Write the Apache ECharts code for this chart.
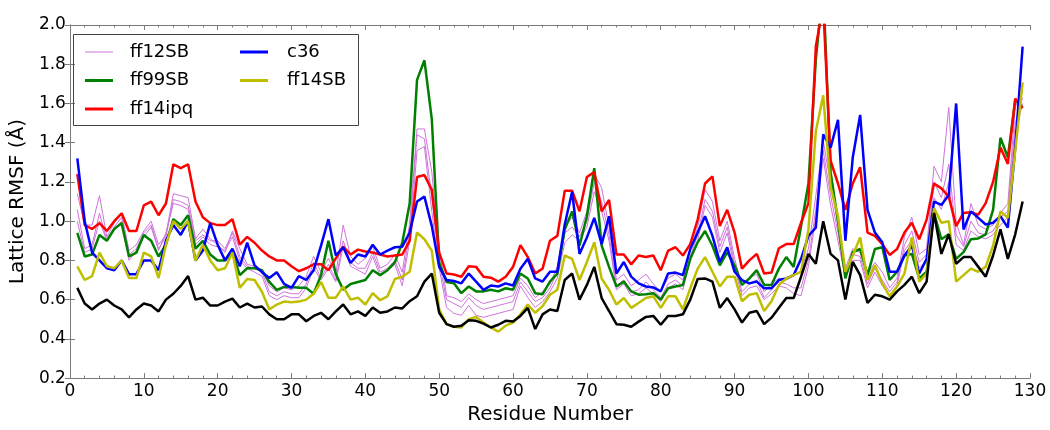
<!DOCTYPE html>
<html>
<head>
<meta charset="utf-8">
<script src="https://cdn.jsdelivr.net/npm/echarts@6/dist/echarts.min.js"></script>
<style>
  html, body { margin: 0; padding: 0; background: #fff; }
  #chart { width: 1050px; height: 430px; }
</style>
</head>
<body>
<div id="chart"></div>
<script>
// Residue numbers along the x axis (1..129)
const residues = Array.from({ length: 129 }, (_, i) => i + 1);

// Lattice RMSF per residue (Å)
const ff12SB_a = [
  1.14, 0.98, 0.98, 1.13, 0.92, 0.99, 1.04, 0.85, 0.88, 0.95,
  1.00, 0.88, 0.93, 1.14, 1.13, 1.12, 0.91, 0.96, 0.91, 0.88,
  0.84, 0.95, 0.86, 0.78, 0.77, 0.75, 0.67, 0.64, 0.66, 0.65,
  0.67, 0.72, 0.82, 0.74, 0.81, 0.73, 0.98, 0.82, 0.78, 0.81,
  0.87, 0.76, 0.78, 0.83, 0.74, 0.99, 1.47, 1.47, 1.25, 0.86,
  0.62, 0.61, 0.59, 0.63, 0.60, 0.58, 0.59, 0.60, 0.61, 0.62,
  0.71, 0.67, 0.61, 0.64, 0.68, 0.77, 0.97, 1.02, 0.94, 1.05,
  1.24, 1.17, 0.97, 0.70, 0.73, 0.67, 0.70, 0.73, 0.68, 0.64,
  0.71, 0.73, 0.70, 0.85, 0.97, 1.16, 1.10, 0.90, 1.00, 0.81,
  0.67, 0.71, 0.73, 0.64, 0.68, 0.71, 0.70, 0.72, 0.75, 0.86,
  1.13, 1.41, 1.19, 0.98, 0.76, 0.86, 0.84, 0.73, 0.79, 0.74,
  0.66, 0.71, 0.92, 1.02, 0.83, 0.86, 1.28, 1.20, 1.58, 0.99,
  0.88, 1.09, 0.98, 0.96, 0.98, 1.04, 1.09, 1.58, 1.66
];
const ff12SB_b = [
  1.06, 0.86, 0.88, 1.04, 0.90, 0.97, 1.02, 0.83, 0.86, 0.94,
  0.98, 0.86, 0.92, 1.11, 1.10, 1.08, 0.90, 0.93, 0.90, 0.90,
  0.86, 0.94, 0.82, 0.77, 0.76, 0.74, 0.64, 0.62, 0.64, 0.63,
  0.63, 0.68, 0.79, 0.71, 0.78, 0.70, 0.90, 0.79, 0.76, 0.76,
  0.84, 0.74, 0.76, 0.80, 0.70, 0.94, 1.44, 1.42, 1.12, 0.79,
  0.60, 0.58, 0.56, 0.61, 0.57, 0.55, 0.56, 0.57, 0.58, 0.59,
  0.69, 0.64, 0.59, 0.61, 0.66, 0.74, 0.94, 0.97, 0.92, 1.00,
  1.20, 1.10, 0.93, 0.67, 0.70, 0.64, 0.65, 0.69, 0.65, 0.61,
  0.68, 0.70, 0.67, 0.82, 0.93, 1.11, 1.05, 0.87, 0.97, 0.78,
  0.64, 0.68, 0.70, 0.61, 0.65, 0.69, 0.68, 0.66, 0.66, 0.80,
  1.06, 1.36, 1.13, 0.94, 0.73, 0.83, 0.82, 0.68, 0.76, 0.70,
  0.64, 0.69, 0.88, 0.95, 0.79, 0.83, 1.20, 1.12, 1.29, 0.93,
  0.87, 1.00, 0.94, 0.93, 0.95, 1.02, 1.05, 1.50, 1.63
];
const ff12SB_c = [
  1.00, 0.84, 0.86, 1.00, 0.90, 0.96, 1.00, 0.80, 0.85, 0.92,
  0.97, 0.85, 0.94, 1.09, 1.08, 1.06, 0.88, 0.92, 0.88, 0.87,
  0.85, 0.92, 0.80, 0.76, 0.74, 0.72, 0.62, 0.60, 0.62, 0.61,
  0.61, 0.66, 0.76, 0.70, 0.76, 0.69, 0.87, 0.77, 0.75, 0.73,
  0.82, 0.72, 0.75, 0.78, 0.67, 0.90, 1.36, 1.38, 1.05, 0.76,
  0.56, 0.53, 0.52, 0.57, 0.52, 0.51, 0.52, 0.53, 0.54, 0.55,
  0.67, 0.61, 0.56, 0.59, 0.64, 0.71, 0.89, 0.93, 0.90, 0.97,
  1.15, 1.05, 0.90, 0.65, 0.68, 0.62, 0.63, 0.66, 0.63, 0.59,
  0.66, 0.68, 0.65, 0.80, 0.90, 1.08, 1.02, 0.84, 0.94, 0.76,
  0.62, 0.66, 0.67, 0.60, 0.63, 0.67, 0.66, 0.63, 0.62, 0.77,
  1.02, 1.32, 1.08, 0.90, 0.71, 0.80, 0.80, 0.66, 0.74, 0.67,
  0.62, 0.67, 0.85, 0.90, 0.76, 0.80, 1.12, 1.06, 1.20, 0.88,
  0.85, 0.95, 0.92, 0.91, 0.93, 0.98, 1.02, 1.45, 1.60
];
const ff99SB = [
  0.94, 0.82, 0.83, 0.93, 0.90, 0.96, 0.99, 0.82, 0.84, 0.93,
  0.90, 0.82, 0.88, 1.01, 0.98, 1.03, 0.86, 0.90, 0.83, 0.80,
  0.80, 0.84, 0.725, 0.76, 0.76, 0.75, 0.69, 0.65, 0.665, 0.665,
  0.66, 0.66, 0.63, 0.725, 0.90, 0.73, 0.65, 0.68, 0.69, 0.70,
  0.75, 0.725, 0.75, 0.79, 0.89, 1.09, 1.72, 1.82, 1.52, 0.79,
  0.69, 0.683, 0.633, 0.667, 0.642, 0.642, 0.65, 0.642, 0.658, 0.65,
  0.733, 0.708, 0.633, 0.628, 0.692, 0.733, 0.958, 1.05, 0.875, 1.025,
  1.27, 0.875, 0.767, 0.667, 0.692, 0.642, 0.625, 0.628, 0.633, 0.60,
  0.658, 0.667, 0.675, 0.808, 0.892, 0.95, 0.875, 0.775, 0.842, 0.775,
  0.675, 0.708, 0.75, 0.675, 0.675, 0.758, 0.817, 0.767, 0.975, 1.192,
  1.825, 2.2, 1.25, 1.0, 0.708, 0.842, 0.858, 0.725, 0.858, 0.867,
  0.70, 0.742, 0.825, 0.833, 0.708, 0.742, 1.042, 0.908, 0.933, 0.808,
  0.842, 0.908, 0.912, 0.933, 1.058, 1.425, 1.325, 1.617, 1.58
];
const ff14ipq = [
  1.24, 0.98, 0.96, 0.99, 0.95, 1.00, 1.04, 0.95, 0.95, 1.08,
  1.10, 1.03, 1.09, 1.29, 1.27, 1.29, 1.10, 1.02, 0.99, 0.98,
  0.98, 1.01, 0.88, 0.92, 0.89, 0.85, 0.82, 0.80, 0.80, 0.77,
  0.745, 0.76, 0.78, 0.78, 0.75, 0.81, 0.87, 0.83, 0.855, 0.845,
  0.84, 0.83, 0.82, 0.825, 0.83, 0.90, 1.225, 1.235, 1.16, 0.84,
  0.733, 0.728, 0.717, 0.77, 0.767, 0.717, 0.712, 0.692, 0.717, 0.767,
  0.878, 0.817, 0.733, 0.758, 0.90, 0.925, 1.155, 1.155, 1.05, 1.225,
  1.25, 1.05, 1.108, 0.83, 0.83, 0.78, 0.825, 0.817, 0.825, 0.75,
  0.85, 0.867, 0.825, 0.883, 1.008, 1.192, 1.228, 0.975, 1.058, 0.942,
  0.758, 0.80, 0.833, 0.733, 0.738, 0.862, 0.883, 0.883, 0.992, 1.092,
  1.892, 2.1, 1.308, 1.192, 1.058, 1.192, 1.275, 0.942, 0.925, 0.883,
  0.828, 0.858, 0.942, 0.992, 0.908, 1.008, 1.192, 1.167, 1.125, 0.975,
  1.042, 1.045, 1.033, 1.092, 1.20, 1.375, 1.292, 1.625, 1.575
];
const c36 = [
  1.32, 1.00, 0.84, 0.80, 0.76, 0.75, 0.80, 0.73, 0.73, 0.80,
  0.80, 0.75, 0.90, 0.98, 0.93, 1.00, 0.80, 0.85, 0.99, 0.88,
  0.80, 0.86, 0.77, 0.89, 0.775, 0.74, 0.71, 0.74, 0.68, 0.66,
  0.72, 0.70, 0.75, 0.875, 1.01, 0.825, 0.867, 0.787, 0.83, 0.82,
  0.88, 0.83, 0.85, 0.867, 0.87, 0.942, 1.10, 1.125, 0.975, 0.767,
  0.70, 0.695, 0.683, 0.733, 0.692, 0.65, 0.672, 0.667, 0.683, 0.672,
  0.758, 0.808, 0.708, 0.692, 0.742, 0.742, 0.983, 1.15, 0.833, 0.917,
  1.017, 0.883, 1.025, 0.733, 0.792, 0.717, 0.683, 0.667, 0.662, 0.642,
  0.733, 0.738, 0.725, 0.858, 0.942, 1.025, 0.925, 0.792, 0.867, 0.742,
  0.70, 0.683, 0.692, 0.658, 0.658, 0.70, 0.708, 0.725, 0.808, 0.925,
  0.967, 1.442, 1.375, 1.517, 0.90, 1.325, 1.542, 1.058, 0.942, 0.892,
  0.742, 0.742, 0.825, 0.875, 0.733, 0.808, 1.10, 1.083, 1.133, 1.60,
  0.958, 1.05, 1.017, 0.983, 0.992, 1.025, 0.967, 1.375, 1.89
];
const ff14SB = [
  0.77, 0.70, 0.72, 0.84, 0.77, 0.76, 0.80, 0.71, 0.71, 0.84,
  0.82, 0.71, 0.88, 1.00, 0.96, 1.00, 0.80, 0.88, 0.80, 0.75,
  0.76, 0.84, 0.66, 0.705, 0.70, 0.64, 0.55, 0.575, 0.59, 0.587,
  0.59, 0.60, 0.63, 0.69, 0.61, 0.61, 0.667, 0.60, 0.61, 0.575,
  0.633, 0.597, 0.617, 0.705, 0.717, 0.742, 0.942, 0.908, 0.85, 0.55,
  0.475, 0.462, 0.458, 0.50, 0.512, 0.483, 0.458, 0.437, 0.467, 0.483,
  0.525, 0.575, 0.533, 0.567, 0.625, 0.65, 0.825, 0.808, 0.70, 0.792,
  0.892, 0.708, 0.65, 0.575, 0.608, 0.558, 0.583, 0.608, 0.617, 0.558,
  0.617, 0.617, 0.55, 0.658, 0.758, 0.817, 0.742, 0.667, 0.717, 0.717,
  0.592, 0.625, 0.633, 0.542, 0.592, 0.675, 0.708, 0.725, 0.742, 0.958,
  1.458, 1.642, 1.175, 1.025, 0.742, 0.825, 0.917, 0.70, 0.775, 0.683,
  0.617, 0.667, 0.733, 0.917, 0.692, 0.733, 1.067, 0.992, 1.00, 0.692,
  0.725, 0.758, 0.742, 0.767, 0.875, 1.05, 1.017, 1.358, 1.708
];
const xtal = [
  0.66, 0.58, 0.55, 0.58, 0.60, 0.57, 0.55, 0.51, 0.55, 0.58,
  0.57, 0.54, 0.60, 0.63, 0.67, 0.72, 0.60, 0.61, 0.57, 0.57,
  0.59, 0.605, 0.56, 0.58, 0.56, 0.565, 0.525, 0.50, 0.50, 0.525,
  0.525, 0.49, 0.517, 0.533, 0.50, 0.54, 0.575, 0.525, 0.54, 0.517,
  0.56, 0.533, 0.54, 0.56, 0.555, 0.592, 0.617, 0.692, 0.733, 0.533,
  0.475, 0.462, 0.467, 0.495, 0.492, 0.478, 0.458, 0.472, 0.492, 0.488,
  0.517, 0.558, 0.45, 0.525, 0.55, 0.542, 0.70, 0.733, 0.60, 0.675,
  0.767, 0.608, 0.542, 0.475, 0.472, 0.462, 0.488, 0.512, 0.517, 0.472,
  0.517, 0.517, 0.525, 0.60, 0.705, 0.708, 0.692, 0.558, 0.608, 0.55,
  0.483, 0.533, 0.542, 0.475, 0.508, 0.558, 0.608, 0.608, 0.717, 0.833,
  0.783, 1.00, 0.833, 0.80, 0.60, 0.792, 0.725, 0.583, 0.625, 0.617,
  0.60, 0.642, 0.675, 0.717, 0.633, 0.692, 1.042, 0.833, 0.933, 0.783,
  0.817, 0.817, 0.767, 0.717, 0.825, 0.958, 0.808, 0.933, 1.10
];

// Axis ticks
const xTicks = [0, 10, 20, 30, 40, 50, 60, 70, 80, 90, 100, 110, 120, 130];
const yTicks = [0.2, 0.4, 0.6, 0.8, 1.0, 1.2, 1.4, 1.6, 1.8, 2.0];

const FONT = 'DejaVu Sans';
const frameColor = '#7a7a7a';

const pairs = arr => residues.map((r, i) => [r, arr[i]]);

function lineSeries(name, arr, color, width) {
  return {
    name: name,
    type: 'line',
    data: pairs(arr),
    showSymbol: false,
    symbol: 'none',
    clip: true,
    animation: false,
    lineStyle: { color: color, width: width },
    itemStyle: { color: color },
    emphasis: { disabled: true }
  };
}

const violet = '#cf74db';

// Legend keys drawn as short line segments (thin for ff12SB, thick otherwise)
const thinKey = 'path://M0,0H28V1H0Z';
const thickKey = 'path://M0,0H28V3H0Z';

const chart = echarts.init(document.getElementById('chart'), null, { renderer: 'canvas' });

const xBase = {
  type: 'value',
  min: xTicks[0],
  max: xTicks[xTicks.length - 1],
  interval: 10,
  axisLine: { show: true, lineStyle: { color: frameColor, width: 1 } },
  axisTick: { show: true, inside: true, length: 5, lineStyle: { color: frameColor } },
  minorTick: { show: true, splitNumber: 5, length: 2.5, lineStyle: { color: frameColor } },
  splitLine: { show: false },
  minorSplitLine: { show: false }
};
const yBase = {
  type: 'value',
  min: yTicks[0],
  max: yTicks[yTicks.length - 1],
  interval: 0.2,
  axisLine: { show: true, lineStyle: { color: frameColor, width: 1 } },
  axisTick: { show: true, inside: true, length: 5, lineStyle: { color: frameColor } },
  splitLine: { show: false }
};

const legendText = { color: '#000', fontFamily: FONT, fontSize: 18, lineHeight: 20 };

chart.setOption({
  animation: false,
  backgroundColor: '#fff',
  grid: { left: 62, right: 20, top: 25, bottom: 44, containLabel: false },
  xAxis: [
    Object.assign({}, xBase, {
      position: 'bottom',
      axisLabel: { color: '#000', fontFamily: FONT, fontSize: 17, margin: 5 },
      name: 'Residue Number',
      nameLocation: 'middle',
      nameGap: 23,
      nameTextStyle: { color: '#000', fontFamily: FONT, fontSize: 20 }
    }),
    Object.assign({}, xBase, { position: 'top', axisLabel: { show: false } })
  ],
  yAxis: [
    Object.assign({}, yBase, {
      position: 'left',
      axisLabel: {
        color: '#000', fontFamily: FONT, fontSize: 17, margin: 4,
        formatter: v => v.toFixed(1)
      },
      name: 'Lattice RMSF (Å)',
      nameLocation: 'middle',
      nameGap: 34,
      nameRotate: 90,
      nameTextStyle: { color: '#000', fontFamily: FONT, fontSize: 20 }
    }),
    Object.assign({}, yBase, { position: 'right', axisLabel: { show: false } })
  ],
  legend: [
    {
      data: [
        { name: 'ff12SB', icon: thinKey },
        { name: 'ff99SB', icon: thickKey },
        { name: 'ff14ipq', icon: thickKey }
      ],
      orient: 'vertical',
      left: 85, top: 42,
      padding: 0,
      itemGap: 8.5,
      itemWidth: 28, itemHeight: 12,
      symbolKeepAspect: true,
      textStyle: Object.assign({ padding: [0, 0, 0, 12] }, legendText),
      selectedMode: false
    },
    {
      data: [
        { name: 'c36', icon: thickKey },
        { name: 'ff14SB', icon: thickKey }
      ],
      orient: 'vertical',
      left: 240, top: 42,
      padding: 0,
      itemGap: 8.5,
      itemWidth: 28, itemHeight: 12,
      symbolKeepAspect: true,
      textStyle: Object.assign({ padding: [0, 0, 0, 14] }, legendText),
      selectedMode: false
    }
  ],
  graphic: [
    {
      type: 'rect',
      left: 73, top: 34,
      shape: { width: 285, height: 91 },
      style: { fill: 'rgba(255,255,255,0)', stroke: '#444', lineWidth: 1 },
      silent: true,
      z: 5
    }
  ],
  series: [
    lineSeries('ff12SB', ff12SB_a, violet, 1),
    lineSeries('ff12SB', ff12SB_b, violet, 1),
    lineSeries('ff12SB', ff12SB_c, violet, 1),
    lineSeries('ff99SB', ff99SB, '#008000', 2.5),
    lineSeries('ff14ipq', ff14ipq, '#ff0000', 2.5),
    lineSeries('c36', c36, '#0000ff', 2.5),
    lineSeries('ff14SB', ff14SB, '#bfbf00', 2.5),
    lineSeries('xtal', xtal, '#000000', 2.5)
  ]
});
</script>
</body>
</html>
